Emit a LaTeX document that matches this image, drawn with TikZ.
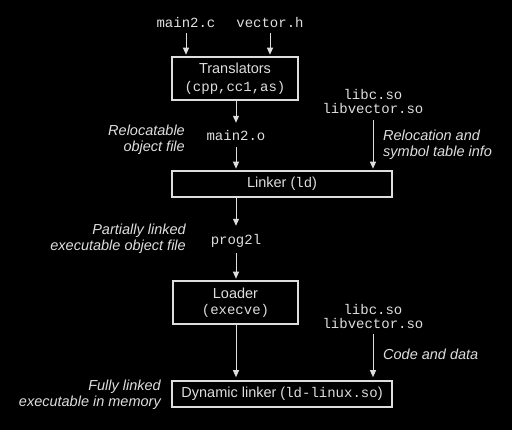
\documentclass[tikz,border=0pt]{standalone}
\usepackage{fontspec}
\setmainfont{Liberation Sans}
\setmonofont{Liberation Mono}
\usetikzlibrary{arrows.meta}
\definecolor{fg}{RGB}{222,222,222}
\begin{document}
\begin{tikzpicture}[x=1pt,y=-1pt,
  every node/.style={text=fg, inner sep=0pt, font=\fontsize{14.5}{16.5}\selectfont},
  stagebox/.style={draw=fg, line width=1.6pt, align=center},
  arr/.style={draw=fg, line width=1pt, -{Triangle[width=6pt,length=7pt]}},
  lbl/.style={font=\fontsize{14.5}{16.5}\selectfont\itshape},
  mono/.style={font=\fontsize{14}{14}\selectfont\ttfamily, text height=12pt, text depth=1pt},
  monotwo/.style={font=\fontsize{14}{14}\selectfont\ttfamily, align=center}
]
\fill[black] (0,0) rectangle (512,430);
\useasboundingbox (0,0) rectangle (512,430);

% top inputs
\node[mono] (m2c) at (186,22) {main2.c};
\node[mono] (vh) at (270,22) {vector.h};

% translators
\node[stagebox, minimum width=126pt, minimum height=43pt] (trans) at (235,78.5)
  {Translators\\[1pt]{\fontsize{14}{14}\selectfont\texttt{(cpp,cc1,as)}}};

\node[mono] (m2o) at (236,135) {main2.o};
\node[lbl, anchor=east, align=right] (reloc) at (185,140) {Relocatable\\object file};

\node[monotwo] (libsA) at (373,101.5) {libc.so\\libvector.so};
\node[lbl, anchor=west, align=left] (relinfo) at (383,145) {Relocation and\\symbol table info};

% linker
\node[stagebox, minimum width=220pt, minimum height=26pt] (linker) at (282,184)
  {Linker ({\fontsize{14}{14}\selectfont\texttt{ld}})};

\node[mono] (prog) at (236,239) {prog2l};
\node[lbl, anchor=east, align=right] (partial) at (186,239) {Partially linked\\executable object file};

% loader
\node[stagebox, minimum width=125pt, minimum height=43pt] (loader) at (235.5,302.5)
  {Loader\\[0pt]{\fontsize{14}{14}\selectfont\texttt{(execve)}}};

\node[monotwo] (libsB) at (373,316) {libc.so\\libvector.so};
\node[lbl, anchor=west] (codedata) at (383,354) {Code and data};

% dynamic linker
\node[stagebox, minimum width=220pt, minimum height=26pt] (dyn) at (282,394)
  {Dynamic linker ({\fontsize{14}{14}\selectfont\texttt{ld-linux.so}})};
\node[lbl, anchor=east, align=right] (fully) at (161,395) {Fully linked\\executable in memory};

% connectors
\draw[arr, shorten <=4.5pt, shorten >=1.5pt] (m2c.south) -- (m2c.south |- trans.north);
\draw[arr, shorten <=4.5pt, shorten >=1.5pt] (vh.south) -- (vh.south |- trans.north);
\draw[arr, shorten >=5.5pt] (trans.south -| m2o.north) -- (m2o.north);
\draw[arr, shorten <=5.5pt, shorten >=1.5pt] (m2o.south) -- (m2o.south |- linker.north);
\draw[arr, shorten <=6pt, shorten >=1.5pt] (libsA.south) -- (libsA.south |- linker.north);
\draw[arr, shorten >=6.5pt] (linker.south -| prog.north) -- (prog.north);
\draw[arr, shorten <=7.5pt, shorten >=1.5pt] (prog.south) -- (prog.south |- loader.north);
\draw[arr, shorten >=3pt] (loader.south -| prog.south) -- (prog.south |- dyn.north);
\draw[arr, shorten <=6pt, shorten >=3pt] (libsB.south) -- (libsB.south |- dyn.north);
\end{tikzpicture}
\end{document}
